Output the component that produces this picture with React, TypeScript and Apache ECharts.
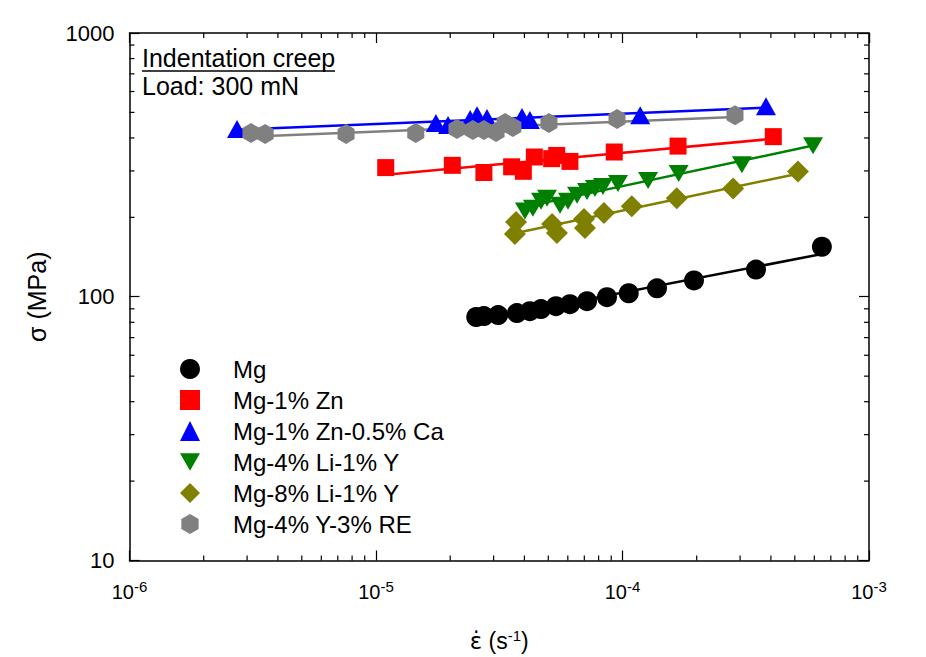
import React, { useEffect, useRef } from "react";
import * as echarts from "echarts";

// ---- data (strain rate s^-1, stress MPa) ----
const mgX = [2.55e-5, 2.74e-5, 3.13e-5, 3.73e-5, 4.21e-5, 4.67e-5, 5.37e-5, 6.12e-5, 7.18e-5, 8.65e-5, 1.06e-4, 1.38e-4, 1.95e-4, 3.48e-4, 6.44e-4];
const mgY = [83.8, 84.5, 85.2, 86.7, 88.2, 89.8, 92.1, 93.7, 96.2, 99.6, 103.1, 107.6, 115.3, 126.8, 154.7];

const znX = [1.095e-5, 2.04e-5, 2.74e-5, 3.55e-5, 3.96e-5, 4.39e-5, 5.16e-5, 5.41e-5, 6.12e-5, 9.26e-5, 1.68e-4, 4.09e-4];
const znY = [308.8, 315, 295.8, 311, 299, 338.7, 333.8, 343.4, 326, 353.8, 372.5, 404.6];

const caX = [2.73e-6, 1.75e-5, 1.96e-5, 2.41e-5, 2.57e-5, 2.82e-5, 3.91e-5, 4.21e-5, 1.18e-4, 3.82e-4];
const caY = [432.5, 455.6, 447.8, 471.6, 488.2, 475.7, 479.8, 467.5, 488.2, 527.6];

const li4X = [4.02e-5, 4.33e-5, 4.67e-5, 4.94e-5, 5.58e-5, 6.01e-5, 6.54e-5, 7.18e-5, 7.73e-5, 8.33e-5, 9.59e-5, 1.27e-4, 1.69e-4, 3.05e-4, 5.93e-4];
const li4Y = [211.2, 216.7, 230.2, 236.3, 222.4, 230.2, 242.5, 250.9, 257.5, 262, 268.9, 276, 293.3, 316.9, 373.4];

const li8X = [3.66e-5, 3.7e-5, 5.18e-5, 5.42e-5, 6.98e-5, 7.04e-5, 8.41e-5, 1.09e-4, 1.66e-4, 2.81e-4, 5.15e-4];
const li8Y = [173.1, 192, 188.7, 174.6, 197.1, 182.3, 207.6, 220.4, 236.3, 257.5, 298.4];

const reX = [3.11e-6, 3.55e-6, 7.56e-6, 1.45e-5, 2.13e-5, 2.47e-5, 2.74e-5, 3.07e-5, 3.34e-5, 3.59e-5, 5.03e-5, 9.5e-5, 2.86e-4];
const reY = [417.8, 414.2, 414.2, 417.8, 432.5, 428.8, 428.8, 421.4, 455.6, 440.2, 455.6, 471.6, 488.2];

const seriesNames = ["Mg", "Mg-1% Zn", "Mg-1% Zn-0.5% Ca", "Mg-4% Li-1% Y", "Mg-8% Li-1% Y", "Mg-4% Y-3% RE"];
const seriesColors = ["#000000", "#ff0000", "#0000ff", "#008000", "#808000", "#808080"];

// axis ranges and tick multipliers
const X_MIN = 1e-6;
const X_MAX = 1e-3;
const Y_MIN = 10;
const Y_MAX = 1000;
const X_DECADES = [-6, -5, -4];
const Y_DECADES = [1, 2];
const MINOR_MULT = [2, 3, 4, 5, 6, 7, 8, 9];

const FONT = "'Liberation Sans', Arial, Helvetica, sans-serif";

function pairs(xs: number[], ys: number[]) {
  return xs.map((x, i) => [x, ys[i]]);
}

// least squares power-law fit in log-log space, drawn over the data range
function fitLine(xs: number[], ys: number[]) {
  const lx = xs.map((v) => Math.log10(v));
  const ly = ys.map((v) => Math.log10(v));
  const n = lx.length;
  const mx = lx.reduce((a, b) => a + b, 0) / n;
  const my = ly.reduce((a, b) => a + b, 0) / n;
  let sxy = 0;
  let sxx = 0;
  for (let i = 0; i < n; i++) {
    sxy += (lx[i] - mx) * (ly[i] - my);
    sxx += (lx[i] - mx) * (lx[i] - mx);
  }
  const m = sxy / sxx;
  const b = my - m * mx;
  const x0 = Math.min(...xs);
  const x1 = Math.max(...xs);
  return [
    [x0, Math.pow(10, b + m * Math.log10(x0))],
    [x1, Math.pow(10, b + m * Math.log10(x1))],
  ];
}

const HEX = "path://M0,-100 L86.6,-50 L86.6,50 L0,100 L-86.6,50 L-86.6,-50 Z";
const DOWN_TRI = "path://M0,0 L100,0 L50,86.6 Z";

export default function App() {
  const ref = useRef<HTMLDivElement>(null);

  useEffect(() => {
    if (!ref.current) return;
    const chart = echarts.init(ref.current, null, { renderer: "svg", width: 926, height: 657 });

    const groups = [
      { x: mgX, y: mgY, symbol: "circle", size: 20 },
      { x: znX, y: znY, symbol: "rect", size: 17 },
      { x: caX, y: caY, symbol: "triangle", size: [20, 18] },
      { x: li4X, y: li4Y, symbol: DOWN_TRI, size: [20, 17] },
      { x: li8X, y: li8Y, symbol: "diamond", size: 22 },
      { x: reX, y: reY, symbol: HEX, size: [17, 20] },
    ];

    const lineSeries = groups.map((g, i) => ({
      type: "line",
      name: seriesNames[i] + " fit",
      data: fitLine(g.x, g.y),
      showSymbol: false,
      symbol: "none",
      lineStyle: { color: seriesColors[i], width: 2.5 },
      z: 2,
      silent: true,
    }));

    const scatterSeries = groups.map((g, i) => ({
      type: "scatter",
      name: seriesNames[i],
      data: pairs(g.x, g.y),
      symbol: g.symbol,
      symbolSize: g.size,
      itemStyle: { color: seriesColors[i], opacity: 1 },
      z: 3,
    }));

    const xMinor: number[][] = [];
    X_DECADES.forEach((d) => MINOR_MULT.forEach((k) => xMinor.push([k * Math.pow(10, d), Y_MIN])));
    const yMinor: number[][] = [];
    Y_DECADES.forEach((d) => MINOR_MULT.forEach((k) => yMinor.push([X_MIN, k * Math.pow(10, d)])));

    const MINOR_LEN = 5;
    const tickStyle = () => ({ stroke: "#000", lineWidth: 1.2 });

    const xMinorSeries = {
      type: "custom",
      name: "x minor ticks",
      coordinateSystem: "cartesian2d",
      xAxisIndex: 0,
      yAxisIndex: 0,
      silent: true,
      clip: false,
      z: 5,
      data: xMinor,
      renderItem: (_params: any, api: any) => {
        const v = api.value(0);
        const b = api.coord([v, Y_MIN]);
        const t = api.coord([v, Y_MAX]);
        return {
          type: "group",
          children: [
            { type: "line", shape: { x1: b[0], y1: b[1], x2: b[0], y2: b[1] - MINOR_LEN }, style: tickStyle() },
            { type: "line", shape: { x1: t[0], y1: t[1], x2: t[0], y2: t[1] + MINOR_LEN }, style: tickStyle() },
          ],
        };
      },
    };

    const yMinorSeries = {
      type: "custom",
      name: "y minor ticks",
      coordinateSystem: "cartesian2d",
      xAxisIndex: 0,
      yAxisIndex: 0,
      silent: true,
      clip: false,
      z: 5,
      data: yMinor,
      renderItem: (_params: any, api: any) => {
        const v = api.value(1);
        const l = api.coord([X_MIN, v]);
        const r = api.coord([X_MAX, v]);
        return {
          type: "group",
          children: [
            { type: "line", shape: { x1: l[0], y1: l[1], x2: l[0] + MINOR_LEN, y2: l[1] }, style: tickStyle() },
            { type: "line", shape: { x1: r[0], y1: r[1], x2: r[0] - MINOR_LEN, y2: r[1] }, style: tickStyle() },
          ],
        };
      },
    };

    const axisLine = { show: true, lineStyle: { color: "#000", width: 1.5 } };
    const axisTick = { show: true, inside: true, length: 10, lineStyle: { color: "#000", width: 1.2 } };

    chart.setOption({
      animation: false,
      backgroundColor: "#ffffff",
      grid: { left: 129.5, top: 33, width: 739.5, height: 533, containLabel: false },
      xAxis: [
        {
          type: "log",
          logBase: 10,
          min: X_MIN,
          max: X_MAX,
          position: "bottom",
          axisLine,
          axisTick,
          splitLine: { show: false },
          axisLabel: {
            margin: 18,
            formatter: (v: number) => `{b|10}{s|${Math.round(Math.log10(v))}}`,
            rich: {
              b: { fontSize: 20, fontFamily: FONT, color: "#000", lineHeight: 26 },
              s: { fontSize: 15, fontFamily: FONT, color: "#000", lineHeight: 15, verticalAlign: "top" },
            },
          },
          name: "{e|ε\u0307}{a| (s}{s|-1}{a|)}",
          nameLocation: "middle",
          nameGap: 67,
          nameTextStyle: {
            rich: {
              e: { fontSize: 23, fontFamily: "'DejaVu Sans', sans-serif", color: "#000", lineHeight: 26 },
              a: { fontSize: 23, fontFamily: FONT, color: "#000", lineHeight: 26 },
              s: { fontSize: 15, fontFamily: FONT, color: "#000", lineHeight: 15, verticalAlign: "top" },
            },
          },
        },
        {
          type: "log",
          logBase: 10,
          min: X_MIN,
          max: X_MAX,
          position: "top",
          axisLine,
          axisTick,
          axisLabel: { show: false },
          splitLine: { show: false },
        },
      ],
      yAxis: [
        {
          type: "log",
          logBase: 10,
          min: Y_MIN,
          max: Y_MAX,
          position: "left",
          axisLine,
          axisTick,
          splitLine: { show: false },
          axisLabel: {
            margin: 15,
            fontSize: 22,
            fontFamily: FONT,
            color: "#000",
            formatter: (v: number) => String(Math.round(v)),
          },
          name: "σ (MPa)",
          nameLocation: "middle",
          nameGap: 80,
          nameTextStyle: { fontSize: 25, fontFamily: FONT, color: "#000" },
        },
        {
          type: "log",
          logBase: 10,
          min: Y_MIN,
          max: Y_MAX,
          position: "right",
          axisLine,
          axisTick,
          axisLabel: { show: false },
          splitLine: { show: false },
        },
      ],
      legend: {
        data: seriesNames,
        orient: "vertical",
        left: 175,
        top: 352,
        itemWidth: 20,
        itemHeight: 20,
        itemGap: 7,
        selectedMode: false,
        textStyle: { fontSize: 24, fontFamily: FONT, color: "#000", lineHeight: 24, padding: [0, 0, 0, 28] },
      },
      graphic: [
        {
          type: "text",
          left: 142,
          top: 45,
          style: { text: "Indentation creep", fontSize: 25, fontFamily: FONT, fill: "#000" },
        },
        {
          type: "line",
          shape: { x1: 142, y1: 71, x2: 335, y2: 71 },
          style: { stroke: "#000", lineWidth: 1.5 },
        },
        {
          type: "text",
          left: 142,
          top: 73,
          style: { text: "Load: 300 mN", fontSize: 25, fontFamily: FONT, fill: "#000" },
        },
      ],
      series: [xMinorSeries, yMinorSeries, ...lineSeries, ...scatterSeries],
    });

    return () => chart.dispose();
  }, []);

  return (
    <div
      ref={ref}
      style={{ position: "absolute", left: 0, top: 0, width: 926, height: 657, background: "#fff" }}
    />
  );
}
